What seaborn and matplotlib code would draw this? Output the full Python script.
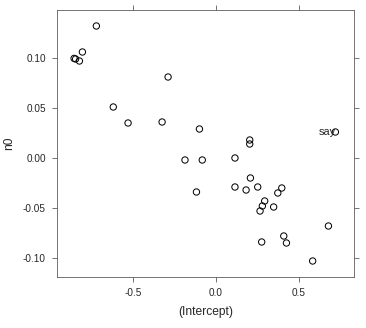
import matplotlib
matplotlib.use("Agg")
import matplotlib.pyplot as plt
import seaborn as sns
import pandas as pd

intercept = [-0.855, -0.846, -0.823, -0.805, -0.721, -0.619, -0.530, -0.325, -0.289,
             -0.100, 0.203, 0.203, 0.719, -0.187, -0.083, 0.114,
             -0.118, 0.114, 0.181, 0.207, 0.251, 0.293, 0.279, 0.265, 0.347,
             0.372, 0.396, 0.677, 0.408, 0.424, 0.275, 0.582]
n0 = [0.0996, 0.099, 0.097, 0.106, 0.132, 0.051, 0.035, 0.036, 0.081,
      0.029, 0.018, 0.014, 0.026, -0.002, -0.002, 0.000,
      -0.034, -0.029, -0.032, -0.020, -0.029, -0.043, -0.048, -0.053, -0.049,
      -0.035, -0.030, -0.068, -0.078, -0.085, -0.084, -0.103]
labels = [""] * 12 + ["say"] + [""] * 19
xticks = [-0.5, 0.0, 0.5]
yticks = [-0.10, -0.05, 0.00, 0.05, 0.10]

df = pd.DataFrame({"(Intercept)": intercept, "n0": n0, "label": labels})

sns.set_style("white")
plt.rcParams['font.family'] = ['Liberation Sans', 'DejaVu Sans']

fig = plt.figure(figsize=(366/72, 328/72), dpi=72)
ax = fig.add_axes([57/366, 51/328, 297/366, 267/328])

sns.scatterplot(data=df, x="(Intercept)", y="n0", ax=ax, marker="o",
                facecolor="none", edgecolor="black", linewidth=1.0, s=40)

for xv, yv, lab in zip(intercept, n0, labels):
    if lab:
        ax.annotate(lab, (xv, yv), xytext=(0, 0), textcoords="offset points",
                    ha="right", va="center", fontsize=11)

ax.set_xlim(-0.958, 0.831)
ax.set_ylim(-0.119, 0.148)
ax.set_xticks(xticks)
ax.set_xticklabels(["-0.5", "0.0", "0.5"])
ax.set_yticks(yticks)
ax.set_yticklabels(["-0.10", "-0.05", "0.00", "0.05", "0.10"])
ax.tick_params(axis="both", which="both", direction="out", length=5, width=0.8,
               color="#555555", labelsize=10, top=True, right=True,
               labeltop=False, labelright=False, bottom=True, left=True, pad=6)
for sp in ax.spines.values():
    sp.set_visible(True)
    sp.set_color("#555555")
    sp.set_linewidth(0.8)

ax.set_xlabel("(Intercept)", fontsize=12, labelpad=8)
ax.set_ylabel("n0", fontsize=12, labelpad=8)

fig.savefig("out.png", dpi=72)
